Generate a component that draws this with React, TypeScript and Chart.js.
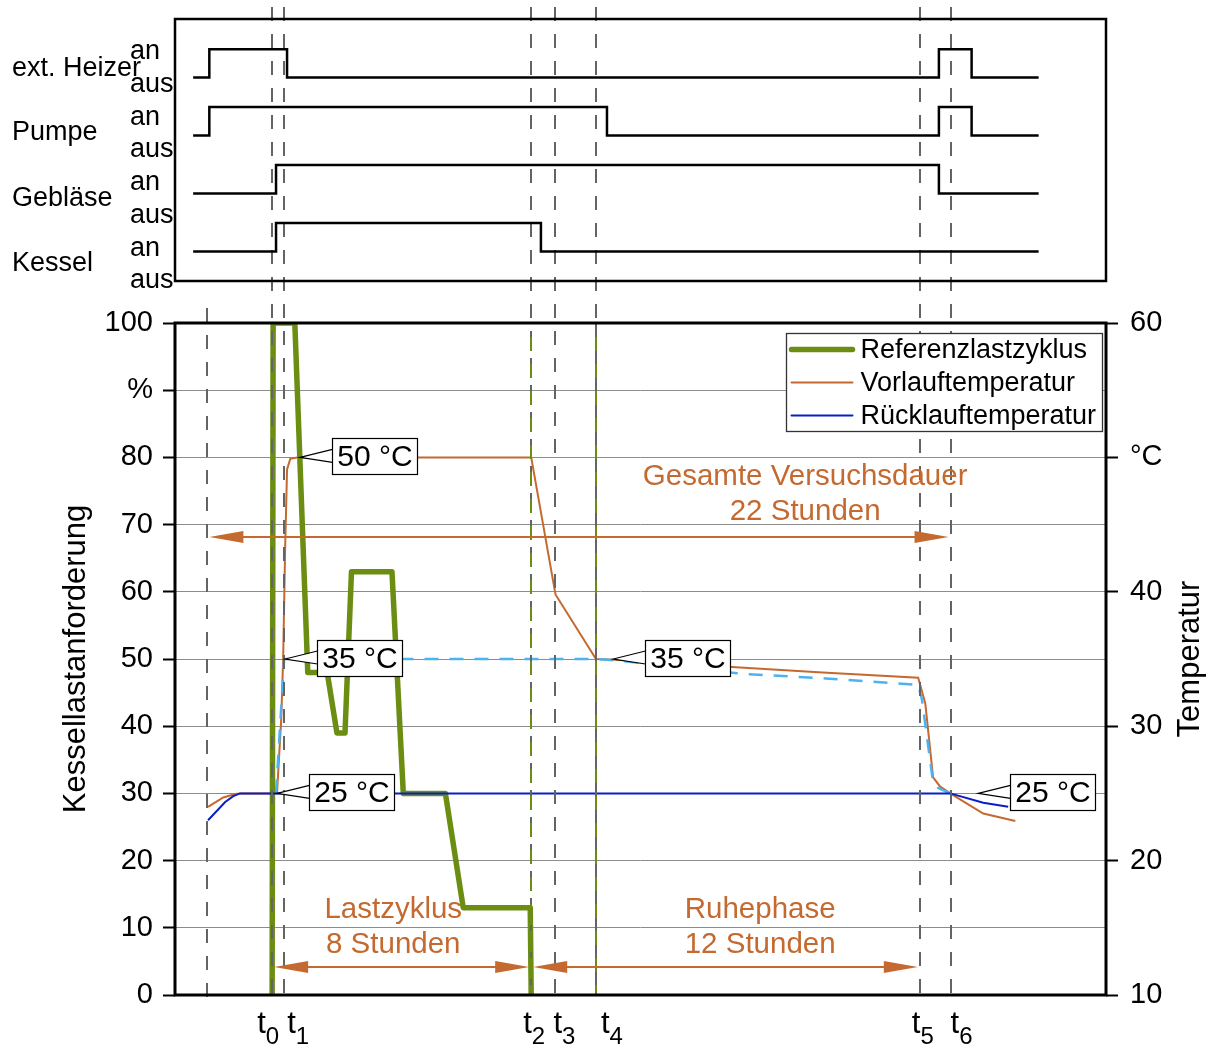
import React, { useEffect, useRef } from "react";
import { Chart, registerables } from "chart.js";

Chart.register(...registerables);

const FONT = '"Liberation Sans", Arial, Helvetica, sans-serif';
const GREEN = "#6b8e12";
const ORANGE = "#c4692f";
const BLUE = "#0a1ec8";
const LIGHTBLUE = "#4bb3f2";
const GRID = "#8c8c8c";
const DASH = "#646464";

// ---------- time axis (hours, t0 = 0) ----------
const axisMinTime = -3;
const axisMaxTime = 25.75;
const eventSubscripts = ["0", "1", "2", "3", "4", "5", "6"];
const eventTimes = [0, 0.37, 8, 8.75, 10, 20, 20.95];
const eventLabelNudge = [-15, 3, -8, -2, 5, -8, 0];
const preHeatTime = -2;

// ---------- lower panel ----------
const loadTimes = [0, 0.03, 0.7, 1.1, 1.7, 2.0, 2.25, 2.45, 3.7, 4.05, 5.35, 5.9, 7.97, 8.0];
const loadValues = [0, 100, 100, 48, 48, 39, 39, 63, 63, 30, 30, 13, 13, 0];

const flowTimes = [-1.98, -1.51, -1.14, -0.99, 0.15, 0.28, 0.34, 0.4, 0.46, 0.56, 0.77, 8.0, 8.75, 10.0, 10.6, 14.2, 17.0, 19.95, 20.17, 20.41, 20.63, 20.94, 21.96, 22.95];
const flowValues = [24.0, 24.7, 24.96, 25, 25, 30.5, 35, 43.1, 49.1, 49.9, 50, 50, 39.8, 35, 34.95, 34.4, 34.0, 33.6, 31.7, 26.2, 25.5, 25.0, 23.5, 22.95];

const returnTimes = [-1.98, -1.45, -1.2, -0.99, 20.94, 21.96, 22.73];
const returnValues = [23.0, 24.36, 24.8, 25, 25, 24.3, 24.0];

const setTimes = [0.12, 0.37, 8.0, 10.0, 10.6, 14.5, 17.1, 19.95, 20.07, 20.41, 20.57, 20.94];
const setValues = [25, 35, 35, 35, 34.9, 33.9, 33.55, 33.07, 31.95, 25.8, 25.4, 25.0];

const legendLabels = ["Referenzlastzyklus", "Vorlauftemperatur", "Rücklauftemperatur"];

const calloutTexts = ["50 °C", "35 °C", "25 °C", "35 °C", "25 °C"];
const calloutTimes = [0.86, 0.4, 0.15, 10.53, 21.8];
const calloutTemps = [50, 35, 25, 35, 25];

const phaseTexts = ["Gesamte Versuchsdauer", "22 Stunden", "Lastzyklus", "8 Stunden", "Ruhephase", "12 Stunden"];
const phaseTextTimes = [16.46, 16.46, 3.74, 3.74, 15.07, 15.07];
const phaseTextLoads = [77.1, 71.9, 12.65, 7.45, 12.65, 7.45];

const arrowFrom = [preHeatTime, eventTimes[0], eventTimes[2]];
const arrowTo = [eventTimes[6], eventTimes[2], eventTimes[5]];
const arrowLoads = [68.15, 4.17, 4.17];

const leftTicksMin = 0;
const leftTicksMax = 100;
const rightTicksMin = 10;
const rightTicksMax = 60;

// ---------- upper panel (signals) ----------
const signalNames = ["ext. Heizer", "Pumpe", "Gebläse", "Kessel"];
const stateLabels = ["aus", "an"];
const signalLevels = [6.21, 4.44, 2.67, 0.9]; // "aus" level of each row
const signalStep = 0.87;
const rowLabelLevels = [6.5, 4.53, 2.52, 0.52];
const heizerTimes = [-2.44, -1.94, 0.46, 20.59, 21.6, 23.67];
const heizerStates = [0, 1, 0, 1, 0, 0];
const pumpeTimes = [-2.44, -1.94, 10.34, 20.59, 21.6, 23.67];
const pumpeStates = [0, 1, 0, 1, 0, 0];
const geblaeseTimes = [-2.44, 0.12, 20.59, 23.67];
const geblaeseStates = [0, 1, 0, 0];
const kesselTimes = [-2.44, 0.12, 8.3, 23.67];
const kesselStates = [0, 1, 0, 0];

const pts = (xs: number[], ys: number[]) => xs.map((x, i) => ({ x, y: ys[i] }));

function lowerConfig(): any {
  const overlay = {
    id: "lowerOverlay",
    afterDatasetsDraw(chart: any) {
      const { ctx, chartArea: ca, scales } = chart;
      const xs = scales.x;
      const yL = scales.y;
      const yT = scales.y2;
      ctx.save();

      // vertical event lines
      const vline = (px: number, y0: number, y1: number) => {
        ctx.beginPath();
        ctx.moveTo(px, y0);
        ctx.lineTo(px, y1);
        ctx.stroke();
      };
      ctx.lineWidth = 2;
      ctx.strokeStyle = DASH;
      ctx.setLineDash([14, 13]);
      vline(Math.round(xs.getPixelForValue(preHeatTime)), ca.top - 15, ca.bottom + 8);
      eventTimes.forEach((t) => vline(Math.round(xs.getPixelForValue(t)), 7, ca.bottom + 8));
      // t4 solid in plot, green dashes at t2 / t4
      const p4 = Math.round(xs.getPixelForValue(eventTimes[4]));
      const p2 = Math.round(xs.getPixelForValue(eventTimes[2]));
      ctx.setLineDash([]);
      vline(p4, ca.top, ca.bottom);
      ctx.strokeStyle = GREEN;
      ctx.setLineDash([14, 13]);
      ctx.lineDashOffset = 13;
      vline(p2, ca.top, ca.bottom);
      vline(p4, ca.top, ca.bottom);
      ctx.lineDashOffset = 0;
      ctx.setLineDash([]);

      // arrows
      ctx.strokeStyle = ORANGE;
      ctx.fillStyle = ORANGE;
      ctx.lineWidth = 2;
      arrowFrom.forEach((t0, i) => {
        const x1 = xs.getPixelForValue(t0) + 2;
        const x2 = xs.getPixelForValue(arrowTo[i]) - 2;
        const y = Math.round(yL.getPixelForValue(arrowLoads[i]));
        ctx.beginPath();
        ctx.moveTo(x1 + 10, y);
        ctx.lineTo(x2 - 10, y);
        ctx.stroke();
        ctx.beginPath();
        ctx.moveTo(x1, y);
        ctx.lineTo(x1 + 34, y - 6);
        ctx.lineTo(x1 + 34, y + 6);
        ctx.closePath();
        ctx.fill();
        ctx.beginPath();
        ctx.moveTo(x2, y);
        ctx.lineTo(x2 - 34, y - 6);
        ctx.lineTo(x2 - 34, y + 6);
        ctx.closePath();
        ctx.fill();
      });

      // phase texts
      ctx.font = `29.5px ${FONT}`;
      ctx.textAlign = "center";
      ctx.textBaseline = "middle";
      phaseTexts.forEach((txt, i) => {
        ctx.fillText(txt, xs.getPixelForValue(phaseTextTimes[i]), yL.getPixelForValue(phaseTextLoads[i]));
      });

      // callouts
      ctx.font = `30px ${FONT}`;
      ctx.lineWidth = 1.2;
      calloutTexts.forEach((txt, i) => {
        const tx = xs.getPixelForValue(calloutTimes[i]);
        const ty = yT.getPixelForValue(calloutTemps[i]);
        const w = Math.round(ctx.measureText(txt).width + 10);
        const h = 36;
        const bx = Math.round(tx + 32) + 0.5;
        const by = Math.round(ty - h / 2 - 1) + 0.5;
        ctx.fillStyle = "#fff";
        ctx.beginPath();
        ctx.moveTo(bx + 1, ty - 8);
        ctx.lineTo(tx, ty);
        ctx.lineTo(bx + 1, ty + 5);
        ctx.closePath();
        ctx.fill();
        ctx.strokeStyle = "#000";
        ctx.beginPath();
        ctx.moveTo(bx, ty - 8);
        ctx.lineTo(tx, ty);
        ctx.lineTo(bx, ty + 5);
        ctx.stroke();
        ctx.fillRect(bx, by, w, h);
        ctx.strokeRect(bx, by, w, h);
        ctx.fillStyle = "#000";
        ctx.fillText(txt, bx + w / 2, by + h / 2 + 1);
      });

      // legend
      const lw = 316;
      const lh = 98;
      const lx = Math.round(ca.right - 320) + 0.5;
      const ly = Math.round(ca.top + 10) + 0.5;
      ctx.fillStyle = "#fff";
      ctx.fillRect(lx, ly, lw, lh);
      ctx.strokeStyle = "#333";
      ctx.lineWidth = 1.3;
      ctx.strokeRect(lx, ly, lw, lh);
      ctx.font = `27px ${FONT}`;
      ctx.textAlign = "left";
      ctx.textBaseline = "middle";
      legendLabels.forEach((lab, i) => {
        const ds = chart.data.datasets.find((d: any) => d.label === lab);
        const ry = ly + 16 + i * 33;
        ctx.strokeStyle = ds.borderColor;
        ctx.lineWidth = ds.borderWidth;
        ctx.lineCap = "round";
        ctx.beginPath();
        ctx.moveTo(lx + 5, ry);
        ctx.lineTo(lx + 66, ry);
        ctx.stroke();
        ctx.lineCap = "butt";
        ctx.fillStyle = "#000";
        ctx.fillText(lab, lx + 74, ry + 1);
      });

      // frame
      ctx.strokeStyle = "#000";
      ctx.lineWidth = 3;
      ctx.strokeRect(ca.left, ca.top, ca.right - ca.left, ca.bottom - ca.top);

      // t labels
      ctx.fillStyle = "#000";
      ctx.textAlign = "left";
      ctx.textBaseline = "alphabetic";
      eventTimes.forEach((t, i) => {
        const px = xs.getPixelForValue(t) + eventLabelNudge[i];
        ctx.font = `31px ${FONT}`;
        ctx.fillText("t", px, ca.bottom + 38);
        const tw = ctx.measureText("t").width;
        ctx.font = `24px ${FONT}`;
        ctx.fillText(eventSubscripts[i], px + tw, ca.bottom + 49);
      });

      // right axis title
      ctx.save();
      ctx.translate(1190, (ca.top + ca.bottom) / 2);
      ctx.rotate(-Math.PI / 2);
      ctx.font = `31px ${FONT}`;
      ctx.textAlign = "center";
      ctx.textBaseline = "middle";
      ctx.fillText("Temperatur", 0, 0);
      ctx.restore();

      ctx.restore();
    },
  };

  return {
    type: "line",
    data: {
      datasets: [
        {
          label: "Rücklauftemperatur",
          data: pts(returnTimes, returnValues),
          yAxisID: "y2",
          borderColor: BLUE,
          borderWidth: 2,
          pointRadius: 0,
          order: 0,
        },
        {
          label: "Referenzlastzyklus",
          data: pts(loadTimes, loadValues),
          yAxisID: "y",
          borderColor: GREEN,
          borderWidth: 5.5,
          borderJoinStyle: "round",
          pointRadius: 0,
          order: 1,
        },
        {
          label: "Sollwert",
          data: pts(setTimes, setValues),
          yAxisID: "y2",
          borderColor: LIGHTBLUE,
          borderWidth: 2.5,
          borderDash: [14, 11],
          pointRadius: 0,
          order: 2,
        },
        {
          label: "Vorlauftemperatur",
          data: pts(flowTimes, flowValues),
          yAxisID: "y2",
          borderColor: ORANGE,
          borderWidth: 2,
          pointRadius: 0,
          order: 3,
        },
      ],
    },
    options: {
      animation: false,
      responsive: false,
      devicePixelRatio: 1,
      layout: { padding: { left: 0, right: 0, top: 323, bottom: 53 } },
      plugins: { legend: { display: false }, tooltip: { enabled: false } },
      scales: {
        x: { type: "linear", display: false, min: axisMinTime, max: axisMaxTime },
        y: {
          position: "left",
          min: leftTicksMin,
          max: leftTicksMax,
          afterFit: (s: any) => {
            s.width = 175;
          },
          border: { display: false },
          grid: { color: GRID, lineWidth: 1, tickLength: 12, tickColor: "#000", tickWidth: 2 },
          ticks: {
            stepSize: 10,
            autoSkip: false,
            padding: 10,
            color: "#000",
            font: { family: FONT, size: 29 },
            callback: (v: number) => (v === 90 ? "%" : String(v)),
          },
          title: {
            display: true,
            text: "Kessellastanforderung",
            color: "#000",
            font: { family: FONT, size: 31 },
            padding: { top: 58, bottom: 0 },
          },
        },
        y2: {
          position: "right",
          min: rightTicksMin,
          max: rightTicksMax,
          afterFit: (s: any) => {
            s.width = 108;
          },
          border: { display: false },
          grid: { drawOnChartArea: false, tickLength: 12, tickColor: "#000", tickWidth: 2 },
          ticks: {
            stepSize: 10,
            autoSkip: false,
            padding: 12,
            color: "#000",
            font: { family: FONT, size: 29 },
            callback: (v: number) => (v === 50 ? "°C" : String(v)),
          },
        },
      },
    },
    plugins: [overlay],
  };
}

function upperConfig(): any {
  const rows = [
    [heizerTimes, heizerStates],
    [pumpeTimes, pumpeStates],
    [geblaeseTimes, geblaeseStates],
    [kesselTimes, kesselStates],
  ];
  const overlay = {
    id: "upperOverlay",
    afterDatasetsDraw(chart: any) {
      const { ctx, chartArea: ca, scales } = chart;
      ctx.save();
      ctx.strokeStyle = "#000";
      ctx.lineWidth = 2.5;
      ctx.strokeRect(ca.left, ca.top, ca.right - ca.left, ca.bottom - ca.top);
      ctx.fillStyle = "#000";
      ctx.font = `27px ${FONT}`;
      ctx.textAlign = "left";
      ctx.textBaseline = "middle";
      signalNames.forEach((name, i) => {
        ctx.fillText(name, 12, scales.y.getPixelForValue(rowLabelLevels[i]));
      });
      ctx.restore();
    },
  };
  return {
    type: "line",
    data: {
      datasets: rows.map((r, i) => ({
        label: signalNames[i],
        data: (r[0] as number[]).map((t, k) => ({
          x: t,
          y: signalLevels[i] + (r[1] as number[])[k] * signalStep,
        })),
        stepped: true,
        borderColor: "#000",
        borderWidth: 2.5,
        borderJoinStyle: "miter",
        pointRadius: 0,
      })),
    },
    options: {
      animation: false,
      responsive: false,
      devicePixelRatio: 1,
      layout: { padding: { left: 130, right: 108, top: 19, bottom: 767 } },
      plugins: { legend: { display: false }, tooltip: { enabled: false } },
      scales: {
        x: { type: "linear", display: false, min: axisMinTime, max: axisMaxTime },
        y: {
          min: 0,
          max: 8,
          afterFit: (s: any) => {
            s.width = 45;
          },
          grid: { display: false },
          border: { display: false },
          ticks: {
            stepSize: 1,
            autoSkip: false,
            crossAlign: "far",
            padding: 0,
            color: "#000",
            font: { family: FONT, size: 27 },
            callback: (v: number) => (v < 8 ? stateLabels[v % 2] : ""),
          },
        },
      },
    },
    plugins: [overlay],
  };
}

export default function App() {
  const topRef = useRef<HTMLCanvasElement>(null);
  const bottomRef = useRef<HTMLCanvasElement>(null);
  useEffect(() => {
    const bottom = new Chart(bottomRef.current as HTMLCanvasElement, lowerConfig());
    const top = new Chart(topRef.current as HTMLCanvasElement, upperConfig());
    return () => {
      top.destroy();
      bottom.destroy();
    };
  }, []);
  return (
    <div style={{ position: "absolute", left: 0, top: 0, width: 1214, height: 1048, background: "#fff", overflow: "hidden" }}>
      <canvas ref={bottomRef} width={1214} height={1048} style={{ position: "absolute", left: 0, top: 0 }} />
      <canvas ref={topRef} width={1214} height={1048} style={{ position: "absolute", left: 0, top: 0 }} />
    </div>
  );
}
